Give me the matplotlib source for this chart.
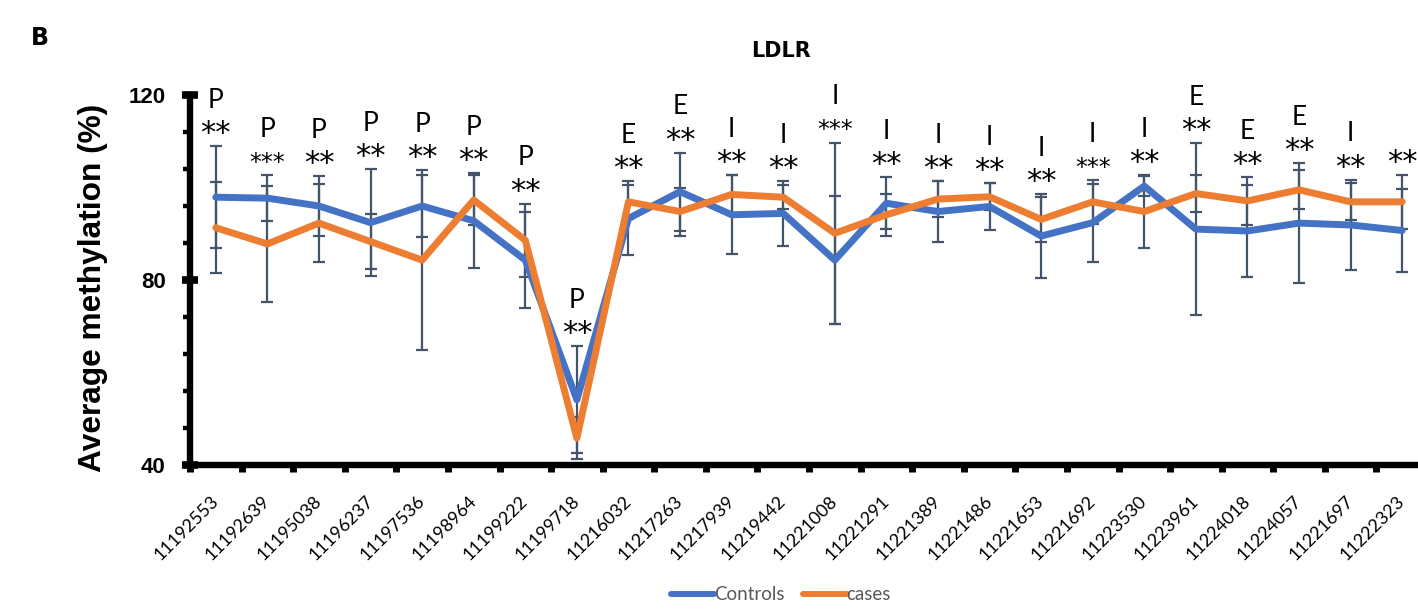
import matplotlib
matplotlib.use("Agg")
import matplotlib.pyplot as plt
from matplotlib.ticker import MultipleLocator, FixedLocator
import numpy as np

# ---------------- data ----------------
positions = ["11192553", "11192639", "11195038", "11196237", "11197536", "11198964",
             "11199222", "11199718", "11216032", "11217263", "11217939", "11219442",
             "11221008", "11221291", "11221389", "11221486", "11221653", "11221692",
             "11223530", "11223961", "11224018", "11224057", "11221697", "11222323"]
controls = [97.9, 97.7, 96.0, 92.4, 96.0, 92.8, 84.3, 54.1, 93.3, 99.1, 94.1, 94.4,
            84.3, 96.6, 94.8, 95.9, 89.5, 92.4, 100.3, 91.0, 90.6, 92.3, 91.9, 90.7]
cases = [91.3, 87.8, 92.3, 88.3, 84.3, 97.3, 88.6, 45.8, 96.9, 94.8, 98.5, 97.9,
         90.1, 94.1, 97.5, 98.0, 93.1, 96.9, 94.8, 98.7, 97.1, 99.5, 96.9, 96.9]
controls_sd = [11.0, 5.0, 6.5, 11.6, 6.8, 10.3, 10.3, 11.6, 8.0, 8.4, 8.5, 7.0,
               13.8, 5.6, 6.5, 5.0, 9.0, 8.4, 2.2, 18.6, 10.0, 12.9, 9.8, 9.0]
cases_sd = [9.8, 12.6, 8.5, 6.0, 19.5, 5.3, 7.9, 4.6, 3.7, 5.2, 4.2, 2.6,
            19.6, 4.6, 3.8, 2.9, 4.8, 4.7, 7.8, 3.9, 5.2, 4.2, 4.0, 5.8]
regions = ["P", "P", "P", "P", "P", "P", "P", "P", "E", "E", "I", "I",
           "I", "I", "I", "I", "I", "I", "I", "E", "E", "E", "I", ""]
stars = ["**", "***", "**", "**", "**", "**", "**", "**", "**", "**", "**", "**",
         "***", "**", "**", "**", "**", "***", "**", "**", "**", "**", "**", "**"]
y_ticks = [40, 80, 120]

# ---------------- figure ----------------
W, H = 1418, 613
fig = plt.figure(figsize=(W / 100, H / 100), dpi=100)
ax = fig.add_axes([190 / W, 1 - 465 / H, (1428 - 190) / W, (465 - 95) / H])

x = np.arange(len(positions))
blue = "#4472C4"
orange = "#ED7D31"
errc = "#44546A"

ax.errorbar(x, controls, yerr=controls_sd, fmt="none", ecolor=errc, elinewidth=1.6,
            capsize=4.5, capthick=1.6, zorder=2, clip_on=False)
ax.errorbar(x, cases, yerr=cases_sd, fmt="none", ecolor=errc, elinewidth=1.6,
            capsize=4.5, capthick=1.6, zorder=2, clip_on=False)
ax.plot(x, controls, color=blue, lw=5, solid_joinstyle="round", solid_capstyle="round",
        zorder=3, label="Controls", clip_on=False)
ax.plot(x, cases, color=orange, lw=5, solid_joinstyle="round", solid_capstyle="round",
        zorder=4, label="cases", clip_on=False)

ax.set_xlim(-0.5, len(positions) - 0.5)
ax.set_ylim(40, 120)

for s in ["top", "right"]:
    ax.spines[s].set_visible(False)
for s in ["left", "bottom"]:
    ax.spines[s].set_linewidth(4.6)
    ax.spines[s].set_color("black")
    ax.spines[s].set_capstyle("projecting")

# y ticks
ax.yaxis.set_major_locator(FixedLocator(y_ticks))
ax.yaxis.set_minor_locator(MultipleLocator(8))
ax.tick_params(axis="y", which="major", direction="inout", length=11, width=5.5,
               pad=12, labelsize=16)
ax.tick_params(axis="y", which="minor", direction="out", length=5, width=3.2)
for lab in ax.get_yticklabels():
    lab.set_fontfamily("Liberation Sans")
    lab.set_fontweight("bold")

# x ticks: labels at centres, marks at boundaries
ax.set_xticks(x)
ax.set_xticklabels(positions, rotation=45, ha="right", va="center",
                   rotation_mode="anchor", fontsize=13, family="Lato")
ax.xaxis.set_minor_locator(FixedLocator(np.arange(len(positions) + 1) - 0.5))
ax.tick_params(axis="x", which="major", length=0, pad=24)
ax.tick_params(axis="x", which="minor", direction="out", length=5, width=5)

ax.set_ylabel("Average methylation (%)", fontsize=22.8, fontweight="bold",
              family="Liberation Sans")
ax.yaxis.set_label_coords(-0.066, 0.48)

# annotations above error bars
for i in range(len(positions)):
    top = max(controls[i] + controls_sd[i], cases[i] + cases_sd[i])
    fs = 22 if stars[i] == "**" else 17
    ax.annotate(stars[i], (x[i], top), xytext=(0, 9), textcoords="offset points",
                ha="center", va="center", fontsize=fs, family="DejaVu Sans",
                annotation_clip=False)
    if regions[i]:
        ax.annotate(regions[i], (x[i], top), xytext=(0, 33), textcoords="offset points",
                    ha="center", va="center", fontsize=19, family="Lato",
                    fontweight="normal", color="black", annotation_clip=False)

fig.text(781 / W, 1 - 51 / H, "LDLR", ha="center", va="center", fontsize=15,
         fontweight="bold", family="DejaVu Sans")
fig.text(40 / W, 1 - 38 / H, "B", ha="center", va="center", fontsize=17,
         fontweight="bold", family="DejaVu Sans")

leg = fig.legend(loc="center", bbox_to_anchor=(781 / W, 1 - 595 / H), ncol=2,
                 frameon=False, handlelength=2.3, handletextpad=0.0,
                 columnspacing=1.0, prop={"family": "Lato", "size": 13.5})
for t in leg.get_texts():
    t.set_color("#595959")
for h in leg.get_lines():
    h.set_linewidth(4.3)
    h.set_solid_capstyle("round")

fig.savefig("out.png", dpi=100)
